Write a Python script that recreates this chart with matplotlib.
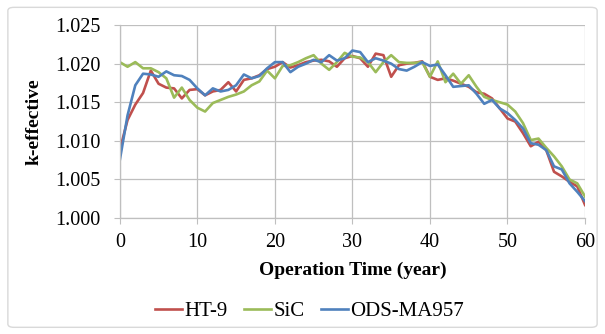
import matplotlib
matplotlib.use("Agg")
import matplotlib.pyplot as plt
from matplotlib.patches import FancyBboxPatch
import numpy as np

# Data (k-effective per operation year)
years = np.arange(0, 61)

ht9 = [1.0088, 1.0127, 1.0147, 1.0162, 1.0191, 1.0174, 1.0169, 1.0168, 1.0155, 1.0166,
       1.0167, 1.0159, 1.0164, 1.0166, 1.0176, 1.0164, 1.0179, 1.0181, 1.0185, 1.0193,
       1.0196, 1.0202, 1.0195, 1.0198, 1.0202, 1.0204, 1.0205, 1.0203, 1.0196, 1.0207,
       1.0210, 1.0207, 1.0196, 1.0213, 1.0211, 1.0183, 1.0198, 1.0200, 1.0201, 1.0203,
       1.0183, 1.0179, 1.0181, 1.0178, 1.0174, 1.0170, 1.0163, 1.0161, 1.0155, 1.0142,
       1.0129, 1.0125, 1.0110, 1.0093, 1.0099, 1.0088, 1.0060, 1.0054, 1.0047, 1.0041,
       1.0017]

sic = [1.0202, 1.0196, 1.0202, 1.0194, 1.0194, 1.0189, 1.0181, 1.0156, 1.0169, 1.0153,
       1.0143, 1.0138, 1.0149, 1.0153, 1.0157, 1.0160, 1.0164, 1.0172, 1.0177, 1.0191,
       1.0181, 1.0197, 1.0198, 1.0202, 1.0207, 1.0211, 1.0200, 1.0192, 1.0202, 1.0214,
       1.0209, 1.0208, 1.0202, 1.0189, 1.0202, 1.0211, 1.0202, 1.0201, 1.0201, 1.0202,
       1.0183, 1.0203, 1.0176, 1.0187, 1.0174, 1.0185, 1.0170, 1.0157, 1.0153, 1.0150,
       1.0147, 1.0138, 1.0123, 1.0101, 1.0103, 1.0091, 1.0080, 1.0067, 1.0050, 1.0045,
       1.0028]

ods = [1.0075, 1.0133, 1.0172, 1.0187, 1.0186, 1.0183, 1.0190, 1.0185, 1.0184, 1.0179,
       1.0168, 1.0159, 1.0168, 1.0164, 1.0166, 1.0172, 1.0186, 1.0181, 1.0184, 1.0194,
       1.0202, 1.0202, 1.0189, 1.0196, 1.0200, 1.0205, 1.0202, 1.0211, 1.0204, 1.0207,
       1.0217, 1.0215, 1.0202, 1.0207, 1.0204, 1.0200, 1.0193, 1.0191, 1.0196, 1.0202,
       1.0197, 1.0199, 1.0185, 1.0170, 1.0171, 1.0172, 1.0161, 1.0148, 1.0153, 1.0142,
       1.0136, 1.0127, 1.0116, 1.0097, 1.0095, 1.0088, 1.0067, 1.0063, 1.0045, 1.0034,
       1.0022]

series_names = ["HT-9", "SiC", "ODS-MA957"]
series_colors = ["#C0504D", "#9BBB59", "#4F81BD"]

xticks = [0, 10, 20, 30, 40, 50, 60]
yticks = [1.000, 1.005, 1.010, 1.015, 1.020, 1.025]

plt.rcParams['font.family'] = ['Liberation Serif', 'DejaVu Serif']

fig = plt.figure(figsize=(6.05, 3.34), dpi=100)
ax = fig.add_axes([0.198, 0.347, 0.769, 0.578])

# light rounded frame around the whole chart
frame = FancyBboxPatch((0.013, 0.02), 0.974, 0.958, boxstyle="round,pad=0,rounding_size=0.01",
                       transform=fig.transFigure, fill=False, edgecolor="#d9d9d9", lw=1.0)
fig.patches.append(frame)

for vals, name, col in zip([ht9, sic, ods], series_names, series_colors):
    ax.plot(years, vals, color=col, lw=1.9, label=name)

ax.set_xlim(0, 60)
ax.set_ylim(1.000, 1.025)
ax.set_xticks(xticks)
ax.set_yticks(yticks)
ax.set_yticklabels(["%.3f" % v for v in yticks])
ax.grid(True, color="#bfbfbf", lw=0.9)
ax.set_axisbelow(True)

for s in ["top", "right"]:
    ax.spines[s].set_visible(False)
for s in ["left", "bottom"]:
    ax.spines[s].set_color("#bfbfbf")
    ax.spines[s].set_linewidth(0.9)

ax.tick_params(axis="both", colors="#bfbfbf", labelcolor="black", labelsize=14.5, length=4)
ax.tick_params(axis="y", pad=10)
ax.tick_params(axis="x", pad=7)

ax.set_xlabel("Operation Time (year)", fontsize=14, fontweight="bold", labelpad=7)
ax.set_ylabel("k-effective", fontsize=14, fontweight="bold", labelpad=9)

fig.legend(loc="center", bbox_to_anchor=(0.512, 0.068), ncol=3, frameon=False,
           fontsize=15, handlelength=1.3, handletextpad=0.1, columnspacing=0.8)

fig.savefig("out.png", dpi=100)
